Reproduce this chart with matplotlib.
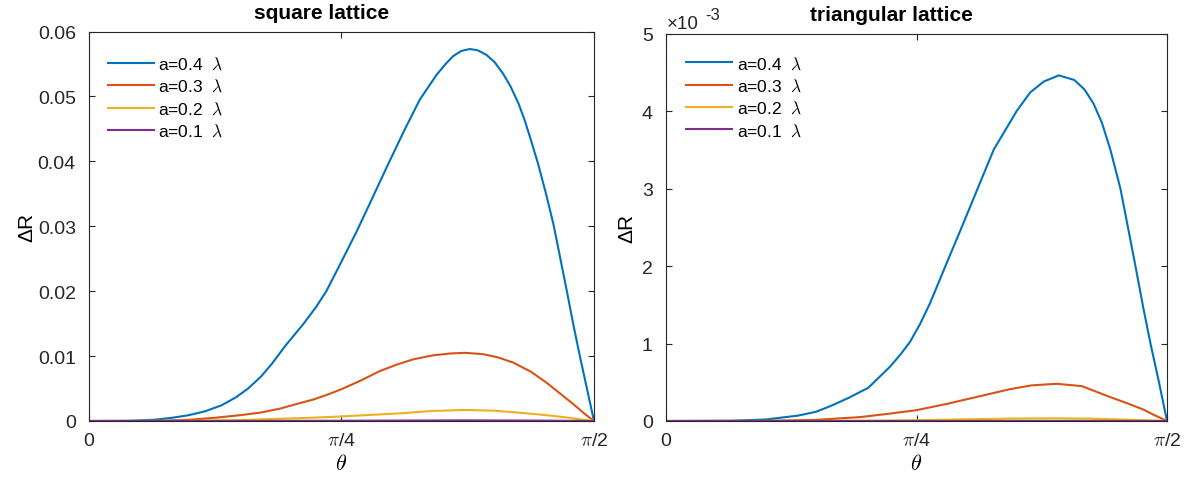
import numpy as np
import matplotlib.pyplot as plt

plt.rcParams['font.family'] = ['Liberation Sans', 'DejaVu Sans']
plt.rcParams['mathtext.fontset'] = 'cm'

# theta given as fraction of pi/2
labels = [r'a=0.4  $\lambda$', r'a=0.3  $\lambda$', r'a=0.2  $\lambda$', r'a=0.1  $\lambda$']
colors = ['#0072BD', '#D95319', '#EDB120', '#7E2F8E']

# square lattice
sq_f_04 = [0, 0.08, 0.13, 0.165, 0.196, 0.23, 0.262, 0.29, 0.315, 0.34, 0.362, 0.39, 0.424, 0.45,
           0.47, 0.497, 0.53, 0.556, 0.589, 0.622, 0.655, 0.688, 0.705, 0.721, 0.737, 0.754, 0.77,
           0.787, 0.803, 0.82, 0.835, 0.85, 0.862, 0.873, 0.889, 0.905, 0.92, 0.945, 0.96, 0.972,
           0.986, 1]
sq_v_04 = [0, 0.00003, 0.0002, 0.0005, 0.00087, 0.0015, 0.0024, 0.0036, 0.005, 0.0068, 0.0088,
           0.0117, 0.0149, 0.0176, 0.02, 0.0241, 0.0292, 0.0335, 0.039, 0.0444, 0.0495, 0.0533,
           0.0549, 0.0562, 0.057, 0.0573, 0.0571, 0.0564, 0.0553, 0.0535, 0.0515, 0.049, 0.0465,
           0.0438, 0.0397, 0.035, 0.0302, 0.0205, 0.0145, 0.01, 0.005, 0]
sq_f_03 = [0, 0.1, 0.15, 0.2, 0.25, 0.3, 0.34, 0.378, 0.41, 0.444, 0.47, 0.5, 0.54, 0.576, 0.61,
           0.642, 0.68, 0.715, 0.745, 0.78, 0.81, 0.84, 0.875, 0.906, 0.935, 0.959, 0.98, 1]
sq_v_03 = [0, 0.00001, 0.00005, 0.0002, 0.0005, 0.0009, 0.0013, 0.0019, 0.0026, 0.0033, 0.004,
           0.0049, 0.0063, 0.0077, 0.0087, 0.0095, 0.0101, 0.0104, 0.0105, 0.0103, 0.0098, 0.009,
           0.0076, 0.0059, 0.0041, 0.0026, 0.0012, 0]
sq_f_02 = [0, 0.2, 0.3, 0.378, 0.44, 0.5, 0.56, 0.62, 0.68, 0.745, 0.8, 0.85, 0.906, 0.95, 0.975, 1]
sq_v_02 = [0, 0.00003, 0.00015, 0.00035, 0.0005, 0.0007, 0.00095, 0.0012, 0.00155, 0.0017, 0.0016,
           0.0013, 0.0009, 0.0005, 0.00022, 0]
sq_f_01 = [0, 0.3, 0.5, 0.745, 0.9, 1]
sq_v_01 = [0, 0.00001, 0.00004, 0.0001, 0.00006, 0]

# triangular lattice (values in units of 1e-3)
tr_f_04 = [0, 0.13, 0.2, 0.264, 0.3, 0.331, 0.365, 0.404, 0.447, 0.467, 0.487, 0.507, 0.527, 0.545,
           0.561, 0.587, 0.617, 0.654, 0.7, 0.727, 0.754, 0.784, 0.815, 0.835, 0.853, 0.87, 0.887,
           0.907, 0.922, 0.937, 0.953, 0.967, 0.984, 1]
tr_v_04 = [0, 0.003, 0.02, 0.07, 0.12, 0.2, 0.3, 0.43, 0.7, 0.85, 1.02, 1.25, 1.52, 1.8, 2.05, 2.45,
           2.92, 3.5, 4.0, 4.24, 4.38, 4.46, 4.4, 4.28, 4.1, 3.85, 3.5, 3.0, 2.5, 2.0, 1.45, 1.0,
           0.5, 0]
tr_f_03 = [0, 0.2, 0.3, 0.387, 0.44, 0.5, 0.56, 0.62, 0.686, 0.73, 0.78, 0.83, 0.886, 0.92, 0.952,
           0.975, 1]
tr_v_03 = [0, 0.002, 0.015, 0.05, 0.09, 0.14, 0.22, 0.31, 0.41, 0.46, 0.48, 0.45, 0.31, 0.23, 0.15,
           0.075, 0]
tr_f_02 = [0, 0.3, 0.4, 0.5, 0.6, 0.7, 0.78, 0.85, 0.92, 1]
tr_v_02 = [0, 0.001, 0.004, 0.01, 0.022, 0.032, 0.035, 0.03, 0.017, 0]
tr_f_01 = [0, 0.5, 0.78, 0.9, 1]
tr_v_01 = [0, 0.0003, 0.001, 0.0006, 0]

square = [(sq_f_04, sq_v_04), (sq_f_03, sq_v_03), (sq_f_02, sq_v_02), (sq_f_01, sq_v_01)]
triangle = [(tr_f_04, tr_v_04), (tr_f_03, tr_v_03), (tr_f_02, tr_v_02), (tr_f_01, tr_v_01)]

fig = plt.figure(figsize=(11.87, 4.81), dpi=100)
ax1 = fig.add_axes([89 / 1187, 1 - 422 / 481, 505 / 1187, 389.5 / 481])
ax2 = fig.add_axes([666 / 1187, 1 - 422 / 481, 501 / 1187, 387.5 / 481])

for ax, series, title, scale, tx in [(ax1, square, 'square lattice', 1.0, 0.46),
                                     (ax2, triangle, 'triangular lattice', 1e-3, 0.449)]:
    for (f, v), lab, c in zip(series, labels, colors):
        ax.plot(np.array(f) * np.pi / 2, np.array(v) * scale, color=c, lw=1.5, label=lab)
    ax.set_xlim(0, np.pi / 2)
    ax.set_xticks([0, np.pi / 4, np.pi / 2])
    ax.set_xticklabels(['0', r'$\pi$/4', r'$\pi$/2'])
    ax.set_xlabel(r'$\theta$', fontsize=16, labelpad=3)
    ax.set_ylabel('ΔR', fontsize=15)
    ax.set_title(title, fontsize=15, fontweight='bold', pad=9.5, x=tx)
    ax.tick_params(direction='in', top=True, right=True, length=4.5, width=0.8,
                   labelsize=14, colors='#262626')
    ax.tick_params(axis='y', pad=9.5)
    ax.tick_params(axis='x', pad=8)
    for s in ax.spines.values():
        s.set_color('#262626')
        s.set_linewidth(0.8)

ax1.legend(loc='upper left', bbox_to_anchor=(0.024, 0.9565), borderaxespad=0, frameon=False,
           fontsize=12.5, handlelength=2.65, handletextpad=0.25, labelspacing=0.34)
ax2.legend(loc='upper left', bbox_to_anchor=(0.027, 0.9625), borderaxespad=0, frameon=False,
           fontsize=12.5, handlelength=2.65, handletextpad=0.25, labelspacing=0.34)

ax1.set_ylim(0, 0.06)
ax1.set_yticks(np.arange(0, 0.061, 0.01))
ax1.set_yticklabels(['0', '0.01', '0.02', '0.03', '0.04', '0.05', '0.06'])
ax1.yaxis.set_label_coords(-0.105, 0.5)

ax2.set_ylim(0, 5e-3)
ax2.set_yticks(np.arange(0, 5.1e-3, 1e-3))
ax2.set_yticklabels(['0', '1', '2', '3', '4', '5'])
ax2.yaxis.set_label_coords(-0.06, 0.5)
fig.text(667 / 1187, 1 - 29 / 481, '×10', fontsize=13.5, color='#262626', va='baseline')
fig.text(705 / 1187, 1 - 20 / 481, '-3', fontsize=12, color='#262626', va='baseline')

fig.savefig('out.png', dpi=100)
